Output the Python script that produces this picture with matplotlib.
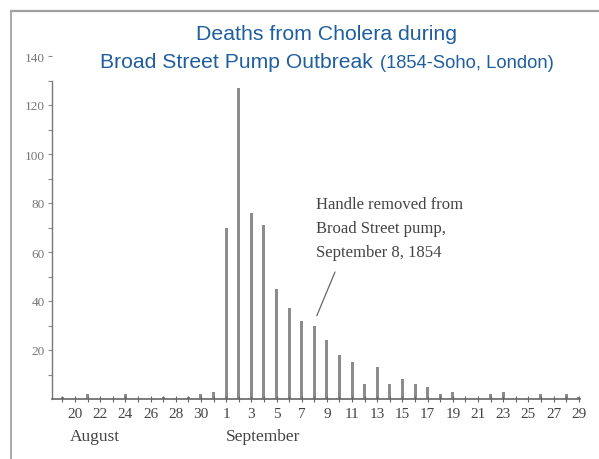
import matplotlib
matplotlib.use("Agg")
import matplotlib.pyplot as plt
from matplotlib.lines import Line2D

# ---- data ----
days = ["Aug 19", "Aug 20", "Aug 21", "Aug 22", "Aug 23", "Aug 24", "Aug 25", "Aug 26",
        "Aug 27", "Aug 28", "Aug 29", "Aug 30", "Aug 31",
        "Sep 1", "Sep 2", "Sep 3", "Sep 4", "Sep 5", "Sep 6", "Sep 7", "Sep 8", "Sep 9",
        "Sep 10", "Sep 11", "Sep 12", "Sep 13", "Sep 14", "Sep 15", "Sep 16", "Sep 17",
        "Sep 18", "Sep 19", "Sep 20", "Sep 21", "Sep 22", "Sep 23", "Sep 24", "Sep 25",
        "Sep 26", "Sep 27", "Sep 28", "Sep 29"]
deaths = [1, 0, 2, 0, 0, 2, 0, 0, 1, 0, 1, 2, 3,
          70, 127, 76, 71, 45, 37, 32, 30, 24, 18, 15, 6, 13, 6, 8, 6, 5,
          2, 3, 0, 0, 2, 3, 0, 0, 2, 0, 2, 1]
xtick_labels = ["20", "22", "24", "26", "28", "30", "1", "3", "5", "7", "9", "11",
                "13", "15", "17", "19", "21", "23", "25", "27", "29"]
xtick_days = ["Aug 20", "Aug 22", "Aug 24", "Aug 26", "Aug 28", "Aug 30",
              "Sep 1", "Sep 3", "Sep 5", "Sep 7", "Sep 9", "Sep 11", "Sep 13",
              "Sep 15", "Sep 17", "Sep 19", "Sep 21", "Sep 23", "Sep 25", "Sep 27", "Sep 29"]
ytick_values = [20, 40, 60, 80, 100, 120, 140]
annotation_day = "Sep 8"
annotation_text = "Handle removed from\nBroad Street pump,\nSeptember 8, 1854"

W, H = 599, 460
fig = plt.figure(figsize=(W / 100, H / 100), dpi=100)

serif = ["Liberation Serif", "DejaVu Serif"]
sans = ["Liberation Sans", "DejaVu Sans"]
bar_color = "#8c8c8c"
title_color = "#1f5f9f"

ax = fig.add_axes([52 / W, (H - 400) / H, 528 / W, 343 / H])
x = list(range(len(days)))
ax.bar(x, deaths, width=0.24, color=bar_color, edgecolor="none")

ax.set_xlim(-0.83, 41.1)
ax.set_ylim(0, 140)

for s in ["top", "right"]:
    ax.spines[s].set_visible(False)
ax.spines["left"].set_bounds(0, 130)
ax.spines["left"].set_color("#777777")
ax.spines["bottom"].set_color("#666666")
ax.spines["left"].set_linewidth(1.0)
ax.spines["bottom"].set_linewidth(1.2)

ax.set_yticks(ytick_values)
ax.set_yticklabels([str(v) for v in ytick_values], fontfamily=serif, fontsize=9.5, color="#777777")
ax.set_yticks([v - 10 for v in ytick_values], minor=True)
ax.tick_params(axis="y", which="both", direction="out", length=3, width=0.8, color="#888888", pad=2)

pos = {d: i for i, d in enumerate(days)}
ax.set_xticks([pos[d] for d in xtick_days])
ax.set_xticklabels(xtick_labels, fontfamily=serif, fontsize=11, color="#444444")
ax.set_xticks(x, minor=True)
ax.tick_params(axis="x", which="both", direction="inout", length=4, width=0.8, color="#666666", pad=4)

fig.text(70 / W, 1 - 437 / H, "August", fontfamily=serif, fontsize=12.5, color="#444444",
         ha="left", va="center")
fig.text(226 / W, 1 - 437 / H, "September", fontfamily=serif, fontsize=12.5, color="#444444",
         ha="left", va="center")

ai = pos[annotation_day]
fig.text(316 / W, 1 - 229 / H, annotation_text, fontfamily=serif, fontsize=12,
         color="#444444", ha="left", va="center", linespacing=1.68)
ax.annotate("", xy=(ai + 0.2, deaths[ai] + 4), xycoords="data",
            xytext=(335 / W, 1 - 273 / H), textcoords="figure fraction",
            arrowprops=dict(arrowstyle="-", color="#666666", lw=0.9,
                            shrinkA=0, shrinkB=0))

# title
fig.text(327 / W, 1 - 34 / H, "Deaths from Cholera during", fontfamily=sans, fontsize=15.3,
         color=title_color, ha="center", va="center")
fig.text(373 / W, 1 - 63 / H, "Broad Street Pump Outbreak", fontfamily=sans, fontsize=15.2,
         color=title_color, ha="right", va="center")
fig.text(380 / W, 1 - 64 / H, "(1854-Soho, London)", fontfamily=sans, fontsize=13.2,
         color=title_color, ha="left", va="center")

# frame lines
fig.add_artist(Line2D([11 / W, 1], [1 - 12 / H, 1 - 12 / H], transform=fig.transFigure,
                      color="#a0a0a0", lw=1.6))
fig.add_artist(Line2D([11 / W, 11 / W], [1 - 12 / H, 0], transform=fig.transFigure,
                      color="#a8a8a8", lw=1.4))

fig.savefig("out.png", dpi=100)
